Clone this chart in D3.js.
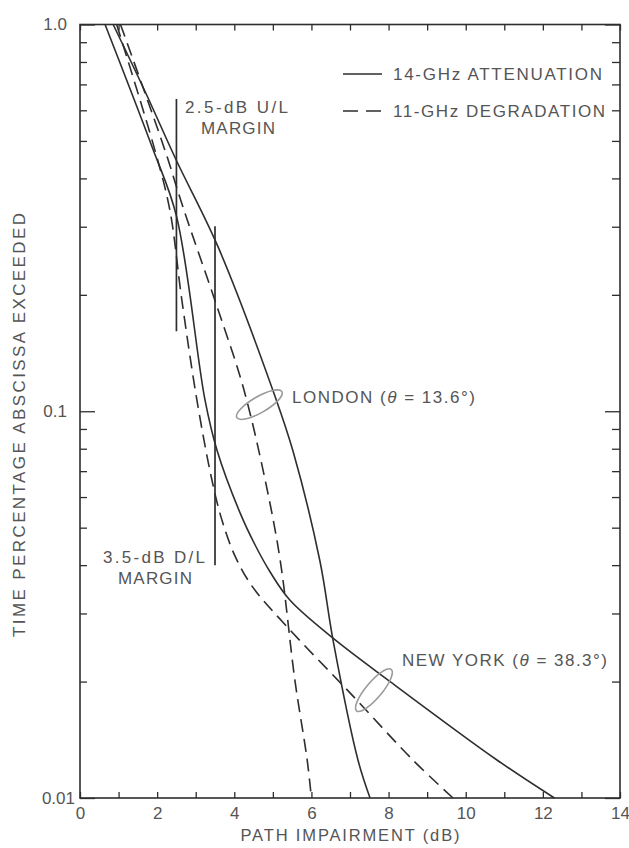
<!DOCTYPE html>
<html>
<head>
<meta charset="utf-8">
<script src="https://cdn.jsdelivr.net/npm/d3@7"></script>
<style>
  html, body { margin: 0; padding: 0; background: #fff; }
  svg text { font-family: "Liberation Sans", Arial, Helvetica, sans-serif; fill: #555; }
</style>
</head>
<body>
<svg id="chart" width="629" height="848"></svg>
<script>
// Path impairment (dB) against percentage of time the impairment is exceeded.
// Each series: [impairment dB, time percentage exceeded]
const londonAtt14 = [
  [0.86, 1.0], [1.69, 0.67], [2.5, 0.445], [3.58, 0.266], [5.06, 0.109],
  [5.52, 0.079], [6.22, 0.041], [6.56, 0.0256], [7.21, 0.0125], [7.52, 0.01]
];
const londonDeg11 = [
  [1.05, 1.0], [2.2, 0.474], [2.67, 0.337], [3.58, 0.183], [4.23, 0.1155],
  [4.8, 0.0664], [5.19, 0.0412], [5.57, 0.0202], [5.89, 0.01254], [6.0, 0.01]
];
const newYorkAtt14 = [
  [0.65, 1.0], [1.87, 0.482], [2.5, 0.32], [3.24, 0.107], [3.55, 0.0794],
  [4.15, 0.0546], [4.54, 0.0451], [4.93, 0.0384], [5.44, 0.0325], [6.56, 0.0259],
  [8.04, 0.02], [10.81, 0.01254], [12.3, 0.01]
];
const newYorkDeg11 = [
  [0.95, 1.0], [1.94, 0.474], [2.33, 0.331], [2.64, 0.194], [3.03, 0.107],
  [3.42, 0.0664], [3.68, 0.0523], [4.02, 0.0422], [4.46, 0.0353], [5.37, 0.0277],
  [7.0, 0.0187], [8.63, 0.01254], [9.67, 0.01]
];

// Link margins: [dB, upper %, lower %]
const upLinkMargin = [2.5, 0.642, 0.161];
const downLinkMargin = [3.5, 0.301, 0.040];

// Circled pairs: [dB, %]
const londonCircle = [4.65, 0.104];
const newYorkCircle = [7.62, 0.019];

const xTicks = d3.range(0, 15);
const xTickLabels = [0, 2, 4, 6, 8, 10, 12, 14];
const yMajorTicks = [1, 0.1, 0.01];
const yMajorLabels = ["1.0", "0.1", "0.01"];
const yMinorTicks = [0.02, 0.03, 0.04, 0.05, 0.06, 0.07, 0.08, 0.09,
                     0.2, 0.3, 0.4, 0.5, 0.6, 0.7, 0.8, 0.9];

const legendItems = [
  { label: "14-GHz ATTENUATION", dashed: false },
  { label: "11-GHz DEGRADATION", dashed: true }
];

const ink = "#2e2e2e";
const svg = d3.select("#chart");

const plotLeft = 80, plotRight = 620, plotTop = 24.5, plotBottom = 798;
const x = d3.scaleLinear().domain([0, 14]).range([plotLeft, plotRight]);
const y = d3.scaleLog().domain([0.01, 1]).range([plotBottom, plotTop]);

// frame
svg.append("rect")
  .attr("x", plotLeft).attr("y", plotTop)
  .attr("width", plotRight - plotLeft).attr("height", plotBottom - plotTop)
  .attr("fill", "none").attr("stroke", ink).attr("stroke-width", 1.6);

function styleAxis(g) {
  g.select(".domain").remove();
  g.selectAll(".tick line").attr("stroke", ink).attr("stroke-width", 1.3);
  g.selectAll(".tick text").attr("fill", "#555").attr("font-size", 17)
    .attr("font-family", '"Liberation Sans", Arial, sans-serif');
}

// x axes (ticks inward)
svg.append("g").attr("transform", `translate(0,${plotBottom})`)
  .call(d3.axisBottom(x).tickValues(xTicks).tickSizeInner(-6).tickSizeOuter(0).tickPadding(9)
    .tickFormat(d => xTickLabels.includes(d) ? d : ""))
  .call(styleAxis);
svg.append("g").attr("transform", `translate(0,${plotTop})`)
  .call(d3.axisTop(x).tickValues(xTicks).tickSizeInner(-6).tickSizeOuter(0).tickFormat(""))
  .call(styleAxis);

// y axes: minor and major ticks inward on both sides
svg.append("g").attr("transform", `translate(${plotLeft},0)`)
  .call(d3.axisLeft(y).tickValues(yMinorTicks).tickSizeInner(-7).tickSizeOuter(0).tickFormat(""))
  .call(styleAxis);
svg.append("g").attr("transform", `translate(${plotRight},0)`)
  .call(d3.axisRight(y).tickValues(yMinorTicks).tickSizeInner(-8).tickSizeOuter(0).tickFormat(""))
  .call(styleAxis);
const yLeftMajor = svg.append("g").attr("transform", `translate(${plotLeft},0)`)
  .call(d3.axisLeft(y).tickValues(yMajorTicks).tickSizeInner(-15).tickSizeOuter(0).tickPadding(13)
    .tickFormat((d, i) => yMajorLabels[i]))
  .call(styleAxis);
yLeftMajor.selectAll(".tick text").filter(d => d === 0.01).attr("x", -5);
svg.append("g").attr("transform", `translate(${plotRight},0)`)
  .call(d3.axisRight(y).tickValues(yMajorTicks).tickSizeInner(-15).tickSizeOuter(0).tickFormat(""))
  .call(styleAxis);

// axis titles
svg.append("text")
  .attr("x", (plotLeft + plotRight) / 2).attr("y", 841)
  .attr("text-anchor", "middle").attr("font-size", 16.5)
  .attr("textLength", 219).attr("lengthAdjust", "spacing")
  .text("PATH IMPAIRMENT (dB)");
svg.append("text")
  .attr("transform", "translate(25,425) rotate(-90)")
  .attr("text-anchor", "middle").attr("font-size", 17)
  .attr("textLength", 424).attr("lengthAdjust", "spacing")
  .text("TIME PERCENTAGE ABSCISSA EXCEEDED");

// curves
const line = d3.line()
  .x(d => x(d[0])).y(d => y(d[1]))
  .curve(d3.curveCatmullRom.alpha(0.5));

const series = [
  { data: londonAtt14, dashed: false },
  { data: londonDeg11, dashed: true },
  { data: newYorkAtt14, dashed: false },
  { data: newYorkDeg11, dashed: true }
];
svg.append("g").selectAll("path").data(series).join("path")
  .attr("d", d => line(d.data))
  .attr("fill", "none").attr("stroke", ink).attr("stroke-width", 1.6)
  .attr("stroke-dasharray", d => d.dashed ? "13,7" : null);

// margin markers
[upLinkMargin, downLinkMargin].forEach(m => {
  svg.append("line")
    .attr("x1", x(m[0])).attr("x2", x(m[0]))
    .attr("y1", y(m[1])).attr("y2", y(m[2]))
    .attr("stroke", ink).attr("stroke-width", 1.7);
});

function label(px, py, str, len, anchor) {
  return svg.append("text").attr("x", px).attr("y", py)
    .attr("font-size", 17).attr("text-anchor", anchor || "start")
    .attr("textLength", len).attr("lengthAdjust", "spacing")
    .text(str);
}
label(185, 113, "2.5-dB U/L", 103);
label(238, 134, "MARGIN", 74, "middle");
label(103, 563, "3.5-dB D/L", 102);
label(155, 584, "MARGIN", 74, "middle");

// circled pairs with their site labels
function ring(c, rx, ry, angle) {
  svg.append("ellipse")
    .attr("transform", `translate(${x(c[0])},${y(c[1])}) rotate(${angle})`)
    .attr("rx", rx).attr("ry", ry)
    .attr("fill", "none").attr("stroke", "#9a9a9a").attr("stroke-width", 1.6);
}
ring(londonCircle, 26, 8, -30);
ring(newYorkCircle, 27, 8, -50);

function siteLabel(px, py, name, angleText, len) {
  const t = svg.append("text").attr("x", px).attr("y", py).attr("font-size", 17)
    .attr("textLength", len).attr("lengthAdjust", "spacing");
  t.append("tspan").text(name + " (");
  t.append("tspan").attr("font-style", "italic").text("θ");
  t.append("tspan").text(" = " + angleText + ")");
}
siteLabel(292, 403, "LONDON", "13.6°", 183);
siteLabel(402, 666, "NEW YORK", "38.3°", 205);

// legend
const legend = svg.append("g");
legendItems.forEach((item, i) => {
  const ly = 74 + i * 37;
  legend.append("line")
    .attr("x1", 343).attr("x2", 382).attr("y1", ly).attr("y2", ly)
    .attr("stroke", ink).attr("stroke-width", 1.6)
    .attr("stroke-dasharray", item.dashed ? "15,8" : null);
  legend.append("text")
    .attr("x", 393).attr("y", ly + 6).attr("font-size", 17)
    .attr("textLength", i === 0 ? 209 : 212).attr("lengthAdjust", "spacing")
    .text(item.label);
});
</script>
</body>
</html>
